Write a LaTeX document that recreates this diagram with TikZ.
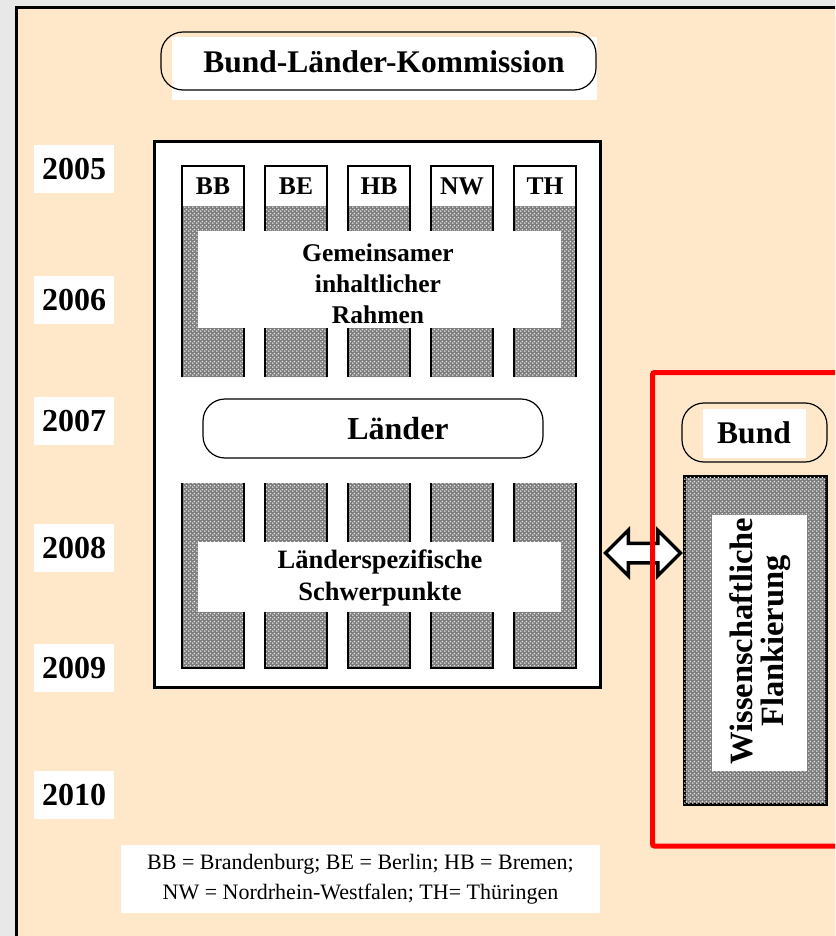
\documentclass[tikz,border=0pt]{standalone}
\usepackage{fontspec}
\setmainfont{Liberation Serif}
\usetikzlibrary{patterns,shapes.arrows}
\definecolor{peach}{RGB}{255,232,202}
\definecolor{bggray}{RGB}{232,232,232}
\definecolor{hatchgray}{RGB}{125,125,125}
\pgfdeclarepatternformonly{mydots}{\pgfqpoint{0pt}{0pt}}{\pgfqpoint{4pt}{4pt}}{\pgfqpoint{4pt}{4pt}}{
  \pgfpathcircle{\pgfqpoint{1pt}{1pt}}{1pt}
  \pgfpathcircle{\pgfqpoint{3pt}{3pt}}{1pt}
  \pgfusepath{fill}}
\begin{document}
\begin{tikzpicture}[x=1pt,y=-1pt,
  hatch/.style={fill=hatchgray, postaction={pattern=mydots, pattern color=white!92!black}},
  yearbox/.style={fill=white, minimum width=80pt, minimum height=48pt, inner sep=0pt,
    font=\fontsize{32}{36}\selectfont\bfseries},
  colhead/.style={fill=white, minimum width=62pt, minimum height=40pt, inner sep=0pt,
    font=\fontsize{25.5}{28}\selectfont\bfseries},
  band/.style={fill=white, inner sep=0pt, align=center},
  roundbox/.style={draw, line width=1.2pt, rounded corners=22pt},
  colline/.style={draw, line width=1.4pt},
  thick frame/.style={draw, line width=3pt}
]
\useasboundingbox (0,0) rectangle (835,936);
\clip (0,0) rectangle (835,936);
\fill[bggray] (0,0) rectangle (835,936);
\draw[thick frame, fill=peach] (16.5,7.5) rectangle (850,950);

% Bund-Laender-Kommission
\node[fill=white, minimum width=425pt, minimum height=63pt, inner sep=0pt] (blk) at (384.5,68.5) {};
\draw[roundbox] (161,32) rectangle (596,90);
\node[font=\fontsize{31.5}{34}\selectfont\bfseries] (blktext) at (384,62) {Bund-Länder-Kommission};

% years
\node[yearbox] (y2005) at (74,169) {2005};
\node[yearbox] (y2006) at (74,300) {2006};
\node[yearbox] (y2007) at (74,421) {2007};
\node[yearbox] (y2008) at (74,548) {2008};
\node[yearbox] (y2009) at (74,668) {2009};
\node[yearbox] (y2010) at (74,795) {2010};

% big white box
\draw[thick frame, fill=white] (154.5,141.5) rectangle (600.5,687.5);

% columns
\foreach \x/\lab in {182/BB,265/BE,348/HB,431/NW,514/TH}{
  \fill[hatch] (\x,206) rectangle (\x+62,377);
  \node[colhead] (h\lab) at (\x+31,186) {\lab};
  \draw[colline] (\x,377) -- (\x,166) -- (\x+62,166) -- (\x+62,377);
  \fill[hatch] (\x,483) rectangle (\x+62,668);
  \draw[colline] (\x,483) -- (\x,668) -- (\x+62,668) -- (\x+62,483);
}

% bands
\node[band, minimum width=363pt, minimum height=97pt] (gem) at (379.5,279.5) {};
\node[font=\fontsize{25.5}{31}\selectfont\bfseries, align=center] (gemtext) at (378,284)
  {Gemeinsamer\\inhaltlicher\\Rahmen};
\node[band, minimum width=363pt, minimum height=70pt] (lsp) at (379.5,577) {};
\node[font=\fontsize{26.5}{32}\selectfont\bfseries, align=center] (lsptext) at (380,578)
  {Länderspezifische\\Schwerpunkte};

% Laender
\draw[roundbox, fill=white] (203,399) rectangle (543,458);
\node[font=\fontsize{32}{34}\selectfont\bfseries] (laender) at (398,429) {Länder};

% double arrow
\node[double arrow, draw, line width=3.5pt, fill=white, minimum height=75pt,
      double arrow head extend=13pt, inner sep=8pt, double arrow tip angle=90] (arr) at (643,553) {};

% Bund side
\draw[line width=5pt, red, rounded corners=2pt] (652.5,372.5) rectangle (860,846);
\node[fill=white, minimum width=103pt, minimum height=49pt, inner sep=0pt] (bundbg) at (754.5,433.5) {};
\draw[roundbox] (682,403) rectangle (827,462);
\node[font=\fontsize{31.5}{34}\selectfont\bfseries] (bund) at (754,433) {Bund};

\draw[thick frame, hatch] (684,476) rectangle (826,804);
\node[fill=white, minimum width=95pt, minimum height=256pt, inner sep=0pt] (wfbg) at (759.5,643) {};
\node[rotate=90, align=center, font=\fontsize{32.5}{31}\selectfont\bfseries] (wf) at (760,641)
  {Wissenschaftliche\\Flankierung};

% legend
\node[fill=white, minimum width=479pt, minimum height=68pt, inner sep=0pt, align=center,
      font=\fontsize{22}{30}\selectfont] (legend) at (360.5,879)
  {BB = Brandenburg; BE = Berlin; HB = Bremen;\\NW = Nordrhein-Westfalen; TH= Thüringen};
\end{tikzpicture}
\end{document}
